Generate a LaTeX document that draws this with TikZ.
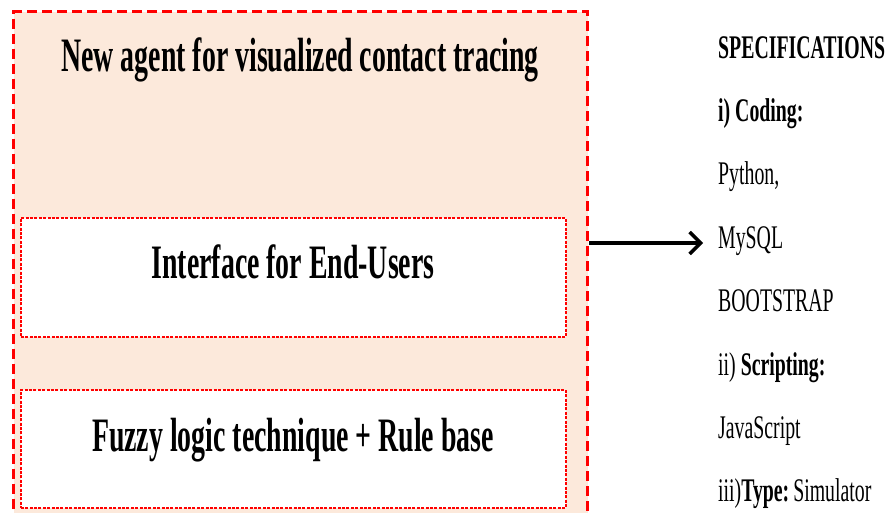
\documentclass[tikz,border=0pt]{standalone}
\usepackage{fontspec}
\setmainfont{Liberation Serif}
\newfontfamily\boxfont[FakeStretch=0.58]{Liberation Serif}
\newfontfamily\specfont[FakeStretch=0.60]{Liberation Serif}
\usetikzlibrary{arrows.meta}
\definecolor{peach}{RGB}{252,233,219}
\definecolor{frame}{RGB}{255,0,0}
\tikzset{
  outerbox/.style={draw=frame, fill=peach, line width=3pt,
    dash pattern=on 10pt off 5pt, anchor=north west, inner sep=0pt},
  innerbox/.style={draw=frame, fill=white, line width=1.6pt,
    dash pattern=on 3pt off 1.4pt, anchor=north west, inner sep=0pt,
    minimum width=545pt, minimum height=119pt},
  bigtext/.style={inner sep=0pt, anchor=base,
    font=\boxfont\bfseries\fontsize{48}{50}\selectfont},
  spec/.style={inner sep=0pt, anchor=base west,
    font=\specfont\fontsize{33}{35}\selectfont},
  link/.style={line width=4pt, -{Straight Barb[length=11pt,width=22pt,line width=3.5pt]}}
}
\begin{document}
\begin{tikzpicture}[x=1pt, y=-1pt]
\useasboundingbox (0,0) rectangle (891,512);
\clip (0,0) rectangle (891,512);

% agent frame and its two layers
\node (agent) [outerbox, minimum width=574pt, minimum height=540pt] at (12,10) {};
\node (iface) [innerbox] at (20,217) {};
\node (fuzzy) [innerbox, minimum height=118pt] at (20,389) {};

\node (title) [bigtext] at (300,71) {New agent for visualized contact tracing};
\node (ifacetext) [bigtext] at (293,278) {Interface for End-Users};
\node (fuzzytext) [bigtext] at (293,451) {Fuzzy logic technique + Rule base};

% specification list
\node (s0) [spec] at (718,58)    {\bfseries SPECIFICATIONS};
\node (s1) [spec] at (718,121.3) {\bfseries i) Coding:};
\node (s2) [spec] at (718,184.6) {Python,};
\node (s3) [spec] at (718,248)   {MySQL};
\node (s4) [spec] at (718,311.5) {BOOTSTRAP};
\node (s5) [spec] at (718,375)   {ii) \textbf{Scripting:}};
\node (s6) [spec] at (718,438)   {JavaScript};
\node (s7) [spec] at (718,501)   {iii)\textbf{Type:}\hspace{-0.08em} Simulator};

% connector from the agent frame to the list
\coordinate (tip) at (703,243);
\draw[link] (agent.east |- tip) -- (tip);
\end{tikzpicture}
\end{document}
